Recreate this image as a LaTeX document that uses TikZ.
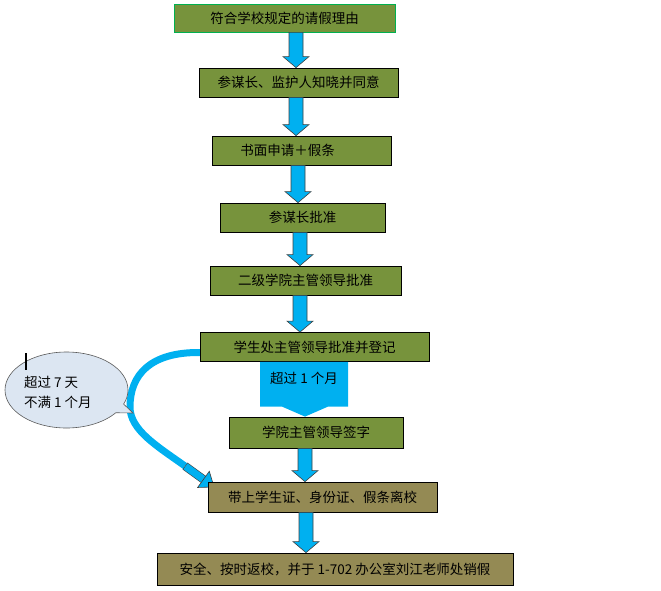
\documentclass[tikz,border=0pt]{standalone}
\usepackage{fontspec}
\setmainfont{Noto Sans CJK SC}
\usetikzlibrary{calc,arrows.meta,shapes.callouts,shapes.geometric}
\definecolor{boxgreen}{HTML}{77933C}
\definecolor{boxtan}{HTML}{948A54}
\definecolor{cyanb}{HTML}{00B0F0}
\definecolor{bubble}{HTML}{DCE6F2}
\definecolor{edgegreen}{HTML}{00B050}
\tikzset{
  txt/.style={font=\fontsize{13.5}{16}\selectfont},
  box/.style={draw=black, line width=0.8pt, fill=boxgreen, inner sep=0pt, txt},
  tanbox/.style={box, fill=boxtan},
  barrowstyle/.style={draw=black!75, fill=cyanb, line width=0.6pt},
}
\newcommand\barrow[3]{%
  \path[barrowstyle] let \p1=(#2.south), \p2=(#3.north) in
   ({#1pt-7pt},\y1) -- ({#1pt+7pt},\y1) -- ({#1pt+7pt},{\y2+11pt}) --
   ({#1pt+13pt},{\y2+11pt}) -- (#1pt,\y2) -- ({#1pt-13pt},{\y2+11pt}) --
   ({#1pt-7pt},{\y2+11pt}) -- cycle;}
\begin{document}
\begin{tikzpicture}[x=1pt,y=-1pt]
\useasboundingbox (0,0) rectangle (661,590);
% curved arrow (behind boxes)
\coordinate (cs) at (200,352.5);
\coordinate (cS) at (185,466);
\coordinate (cT) at (214,487);
\coordinate (cB) at ($(cT)!13pt!(cS)$);
\draw[cyanb, line width=7pt]
  (cs) .. controls (150,352) and (130,375) .. (130,407)
       .. controls (130,430) and (157,446) .. (cS);
\draw[black!75, line width=8.4pt] (cS) -- (cB);
\draw[cyanb, line width=7.2pt] ($(cS)!0.6pt!(cB)$) -- (cB);
\path[barrowstyle] ($(cB)!10pt!90:(cT)$) -- (cT) -- ($(cB)!10pt!-90:(cT)$) -- cycle;
% boxes
\node[box, draw=edgegreen, minimum width=221pt, minimum height=28pt] (n1) at (284.5,18) {符合学校规定的请假理由};
\node[box, minimum width=199pt, minimum height=29pt] (n2) at (298.5,82.5) {参谋长、监护人知晓并同意};
\node[box, minimum width=179pt, minimum height=29pt] (n3) at (301.5,150.5) {\hspace*{-28pt}书面申请＋假条};
\node[box, minimum width=165pt, minimum height=29pt] (n4) at (302.5,217.5) {参谋长批准};
\node[box, minimum width=191pt, minimum height=29pt] (n5) at (305.5,280.5) {二级学院主管领导批准};
\node[box, minimum width=229pt, minimum height=29pt] (n6) at (314.5,347) {学生处主管领导批准并登记};
\node[box, minimum width=174pt, minimum height=31pt] (n7) at (316,432.5) {学院主管领导签字};
\node[tanbox, minimum width=229pt, minimum height=30pt] (n8) at (322.5,497) {带上学生证、身份证、假条离校};
\node[tanbox, minimum width=356pt, minimum height=32pt] (n9) at (335,569) {安全、按时返校，并于 1-702 办公室刘江老师处销假};
% block arrows
\barrow{296}{n1}{n2}
\barrow{296}{n2}{n3}
\barrow{298}{n3}{n4}
\barrow{300}{n4}{n5}
\barrow{300}{n5}{n6}
\barrow{305}{n7}{n8}
\barrow{306}{n8}{n9}
% big arrow "超过1个月"
\path[fill=cyanb] let \p1=(n6.south), \p2=(n7.north) in
  (260pt,\y1) -- (348pt,\y1) -- (348pt,{\y2+10pt}) -- (328pt,{\y2+10pt}) --
  (305pt,\y2) -- (282pt,{\y2+10pt}) -- (260pt,{\y2+10pt}) -- cycle;
\node[txt] (lbl) at (304,378) {超过 1 个月};
% callout
\node[ellipse callout, draw=black!65, line width=0.6pt, fill=bubble,
  minimum width=123pt, minimum height=76pt,
  callout absolute pointer={(133,413)}] (bub) at (66.5,390) {};
\node[align=left, anchor=west, inner sep=0pt, font=\fontsize{13.5}{20}\selectfont] (btext) at (24,392) {超过 7 天\\不满 1 个月};
\draw[line width=1.6pt] (26,353) -- (26,370);
\end{tikzpicture}
\end{document}
